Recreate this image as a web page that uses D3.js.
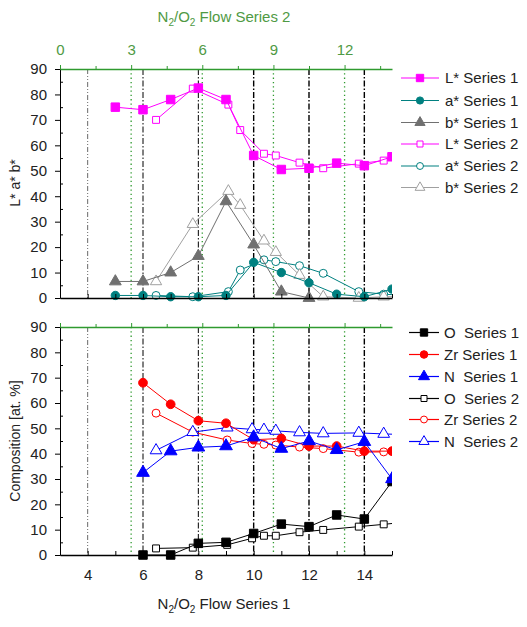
<!DOCTYPE html>
<html>
<head>
<meta charset="utf-8">
<script src="https://d3js.org/d3.v7.min.js"></script>
<style>
  body { margin: 0; background: #fff; }
  text { font-family: "Liberation Sans", Arial, sans-serif; }
</style>
</head>
<body>
<div id="chart"></div>
<script>
// ---- data ----
// top panel, series 1 (bottom axis: N2/O2 Flow Series 1)
var flowTop1 = [5, 6, 7, 8, 9, 10, 11, 12, 13, 14, 15];
var L1 = [75, 74, 78, 82.5, 78, 56, 50.5, 51, 53, 52, 55.5];
var a1 = [1, 1, 0.5, 0.5, 1, 14, 10, 6, 1.5, 0.5, 3.5];
var b1 = [6.5, 6.5, 10, 16.5, 38, 21, 2.5, 0, null, null, null];
// top panel, series 2 (top axis: N2/O2 Flow Series 2)
var flowTop2 = [4.05, 5.6, 7.1, 7.6, 8.6, 9.1, 10.1, 11.1, 12.6, 13.65, 14.6];
var L2 = [70, 82.3, 76, 66, 56.7, 56, 53.2, 51, 52.8, 54, 57];
var a2 = [1, 0.5, 2.5, 11, 15, 14.3, 12.7, 9.7, 2.5, 1.5, 1];
var b2 = [6.5, 29, 42, 36.5, 22.5, 18, 9, 0.5, 0, 0.5, 0.5];
// bottom panel, series 1
var flowBot1 = [6, 7, 8, 9, 10, 11, 12, 13, 14, 15];
var O1 = [0, 0, 4.6, 5, 8.5, 12.2, 11.2, 15.8, 14.2, 29];
var Zr1 = [68, 59.5, 53, 52, 45.5, 46, 43, 43, 41, 41];
var N1 = [32.5, 41, 42.5, 43, 46.5, 42, 45, 41.5, 44.7, 30];
// bottom panel, series 2
var flowBot2 = [4.05, 5.6, 7.05, 8.1, 8.6, 9.1, 10.1, 11.1, 12.6, 13.65, 14.6];
var O2 = [2.6, 2.9, 4, 6.6, 7.6, 7.6, 9, 9.9, 11.2, 12.1, 13];
var Zr2 = [56, 48.5, 45.4, 44, 43.7, 43.4, 42.6, 42, 40.6, 40.7, 41];
var N2 = [41.3, 48.5, 50.3, 49.6, 49.4, 49, 48.4, 48, 48.2, 47.8, 47.5];

// ticks and reference lines
var yTicks = [0, 10, 20, 30, 40, 50, 60, 70, 80, 90];
var yMinor = [5, 15, 25, 35, 45, 55, 65, 75, 85];
var bottomTicks = [3, 4, 5, 6, 7, 8, 9, 10, 11, 12, 13, 14, 15];
var bottomLabels = [4, 6, 8, 10, 12, 14];
var topTicks = [0, 3, 6, 9, 12];
var topMinor = [1.5, 4.5, 7.5, 10.5, 13.5];
var blackLines = [4, 6, 8, 10, 12, 14];
var greenLines = [3, 6, 9, 12];

var topLegend = ["L* Series 1", "a* Series 1", "b* Series 1", "L* Series 2", "a* Series 2", "b* Series 2"];
var botLegend = ["O  Series 1", "Zr Series 1", "N  Series 1", "O  Series 2", "Zr Series 2", "N  Series 2"];

// ---- setup ----
var W = 527, H = 627;
var left = 60, right = 392;
var green = "#2f9a2f", greenText = "#4f9a44", ink = "#222";

var svg = d3.select("#chart").append("svg")
  .attr("width", W).attr("height", H);

var x1 = d3.scaleLinear().domain([3, 15]).range([left, right]);
var x2 = d3.scaleLinear().domain([0, 14]).range([left, right]);
var yTop = d3.scaleLinear().domain([0, 90]).range([298, 69]);
var yBot = d3.scaleLinear().domain([0, 90]).range([555, 327]);

svg.append("defs").append("clipPath").attr("id", "plotclip")
  .append("rect").attr("x", left).attr("y", 0)
  .attr("width", right - left).attr("height", H);

function zip(xs, ys) {
  return xs.map(function(d, i) { return {x: d, y: ys[i]}; });
}

// series definitions (per panel)
var topSeries = [
  {xs: flowTop2, ys: L2, x: x2, color: "#ff00ff", shape: d3.symbolSquare, size: 48, filled: false},
  {xs: flowTop2, ys: a2, x: x2, color: "#008080", shape: d3.symbolCircle, size: 50, filled: false},
  {xs: flowTop2, ys: b2, x: x2, color: "#a0a0a0", shape: d3.symbolTriangle, size: 55, filled: false},
  {xs: flowTop1, ys: L1, x: x1, color: "#ff00ff", shape: d3.symbolSquare, size: 72, filled: true},
  {xs: flowTop1, ys: a1, x: x1, color: "#008080", shape: d3.symbolCircle, size: 55, filled: true},
  {xs: flowTop1, ys: b1, x: x1, color: "#707070", shape: d3.symbolTriangle, size: 60, filled: true}
];
var botSeries = [
  {xs: flowBot2, ys: O2, x: x2, color: "#000", shape: d3.symbolSquare, size: 48, filled: false},
  {xs: flowBot2, ys: Zr2, x: x2, color: "#ff0000", shape: d3.symbolCircle, size: 50, filled: false},
  {xs: flowBot2, ys: N2, x: x2, color: "#0000ff", shape: d3.symbolTriangle, size: 60, filled: false},
  {xs: flowBot1, ys: O1, x: x1, color: "#000", shape: d3.symbolSquare, size: 72, filled: true},
  {xs: flowBot1, ys: Zr1, x: x1, color: "#ff0000", shape: d3.symbolCircle, size: 60, filled: true},
  {xs: flowBot1, ys: N1, x: x1, color: "#0000ff", shape: d3.symbolTriangle, size: 70, filled: true}
];

function drawPanel(y, series, showTop, showBottom) {
  var g = svg.append("g");

  // black dash-dot reference lines
  g.selectAll(".vline").data(blackLines).enter().append("line")
    .attr("x1", function(d) { return x1(d); })
    .attr("x2", function(d) { return x1(d); })
    .attr("y1", y(90)).attr("y2", y(0))
    .attr("stroke", function(d) { return d == 4 ? "#444" : "#000"; })
    .attr("stroke-width", function(d) { return d == 4 ? 0.8 : (d < 10 ? 1 : 1.4); })
    .attr("stroke-dasharray", function(d) { return d == 4 ? "5,2,1,2,1,2" : "6,2,1.5,2"; });

  // green dotted reference lines (top axis)
  g.selectAll(".gline").data(greenLines).enter().append("line")
    .attr("x1", function(d) { return x2(d); })
    .attr("x2", function(d) { return x2(d); })
    .attr("y1", y(90)).attr("y2", y(0))
    .attr("stroke", green).attr("stroke-width", 1.3)
    .attr("stroke-dasharray", "1.3,3");

  // series
  var plot = g.append("g").attr("clip-path", "url(#plotclip)");
  series.forEach(function(s) {
    var pts = zip(s.xs, s.ys).filter(function(d) { return d.y != null; });
    var line = d3.line()
      .x(function(d) { return s.x(d.x); })
      .y(function(d) { return y(d.y); });
    plot.append("path").datum(pts)
      .attr("d", line).attr("fill", "none")
      .attr("stroke", s.color).attr("stroke-width", 1);
    plot.selectAll(null).data(pts).enter().append("path")
      .attr("transform", function(d) { return "translate(" + s.x(d.x) + "," + y(d.y) + ")"; })
      .attr("d", d3.symbol().type(s.shape).size(s.size))
      .attr("fill", s.filled ? s.color : "#fff")
      .attr("stroke", s.color).attr("stroke-width", 1);
  });

  // left axis
  var ya = g.append("g").attr("transform", "translate(" + left + ",0)")
    .call(d3.axisLeft(y).tickValues(yTicks).tickSize(5).tickPadding(8));
  ya.selectAll("text").attr("font-size", 15).attr("fill", ink)
    .style("font-family", "Liberation Sans, Arial, sans-serif");
  g.append("g").attr("transform", "translate(" + left + ",0)")
    .call(d3.axisLeft(y).tickValues(yMinor).tickSize(-3).tickFormat(""))
    .select(".domain").remove();

  // bottom axis (ticks inward)
  g.append("g").attr("transform", "translate(0," + y(0) + ")")
    .call(d3.axisBottom(x1).tickValues(bottomTicks).tickSize(-4).tickSizeOuter(0).tickFormat(""))
    .select(".domain").attr("stroke-width", 1.5);
  if (showBottom) {
    var xb = g.append("g").attr("transform", "translate(0," + y(0) + ")")
      .call(d3.axisBottom(x1).tickValues(bottomLabels).tickSize(0).tickPadding(14));
    xb.select(".domain").remove();
    xb.selectAll("text").attr("font-size", 15).attr("fill", ink)
      .style("font-family", "Liberation Sans, Arial, sans-serif");
  }

  // top green axis
  var ta = g.append("g").attr("transform", "translate(0," + y(90) + ")")
    .call(d3.axisTop(x2).tickValues(topTicks).tickSize(4).tickSizeOuter(0).tickFormat(""));
  ta.selectAll("line, path").attr("stroke", green);
  ta.select(".domain").attr("stroke-width", 1.6);
  var tm = g.append("g").attr("transform", "translate(0," + y(90) + ")")
    .call(d3.axisTop(x2).tickValues(topMinor).tickSize(3).tickFormat(""));
  tm.select(".domain").remove();
  tm.selectAll("line").attr("stroke", green);
  if (showTop) {
    var tl = g.append("g").attr("transform", "translate(0," + y(90) + ")")
      .call(d3.axisTop(x2).tickValues(topTicks).tickSize(0).tickPadding(14));
    tl.select(".domain").remove();
    tl.selectAll("text").attr("font-size", 15).attr("fill", greenText)
      .style("font-family", "Liberation Sans, Arial, sans-serif");
  }
}

drawPanel(yTop, topSeries, true, false);
drawPanel(yBot, botSeries, false, true);

// legends
function drawLegend(series, labels, rowY, x0, x1e, tx) {
  var lg = svg.append("g");
  var rows = lg.selectAll("g").data(series.slice(3).concat(series.slice(0, 3))).enter()
    .append("g")
    .attr("transform", function(d, i) { return "translate(0," + rowY[i] + ")"; });
  rows.append("line").attr("x1", x0).attr("x2", x1e)
    .attr("stroke", function(d) { return d.color; }).attr("stroke-width", 1.2);
  rows.append("path")
    .attr("transform", "translate(" + ((x0 + x1e) / 2) + ",0)")
    .attr("d", function(d) { return d3.symbol().type(d.shape).size(d.size * 0.75)(); })
    .attr("fill", function(d) { return d.filled ? d.color : "#fff"; })
    .attr("stroke", function(d) { return d.color; });
  rows.append("text").attr("x", tx).attr("dy", "0.36em")
    .attr("font-size", 15).attr("fill", ink)
    .style("white-space", "pre")
    .text(function(d, i) { return labels[i]; });
}
drawLegend(topSeries, topLegend, [78, 100.5, 122.5, 144, 166, 187.5], 401, 439, 445);
drawLegend(botSeries, botLegend, [332.5, 354.5, 376.5, 398.5, 419.5, 441.5], 409, 439, 444);

// axis titles with subscripts
function flowTitle(xc, yc, label, color) {
  var t = svg.append("text").attr("x", xc).attr("y", yc)
    .attr("text-anchor", "middle").attr("font-size", 15).attr("fill", color);
  t.append("tspan").text("N");
  t.append("tspan").text("2").attr("font-size", 10).attr("dy", 4);
  t.append("tspan").text("/O").attr("dy", -4);
  t.append("tspan").text("2").attr("font-size", 10).attr("dy", 4);
  t.append("tspan").text(" " + label).attr("dy", -4);
}
flowTitle(224, 22, "Flow Series 2", greenText);
flowTitle(224, 609, "Flow Series 1", ink);

svg.append("text")
  .attr("transform", "translate(20,183) rotate(-90)")
  .attr("text-anchor", "middle").attr("font-size", 14).attr("fill", ink)
  .text("L* a* b*");
svg.append("text")
  .attr("transform", "translate(20,441) rotate(-90)")
  .attr("text-anchor", "middle").attr("font-size", 14).attr("fill", ink)
  .text("Composition [at. %]");
</script>
</body>
</html>
